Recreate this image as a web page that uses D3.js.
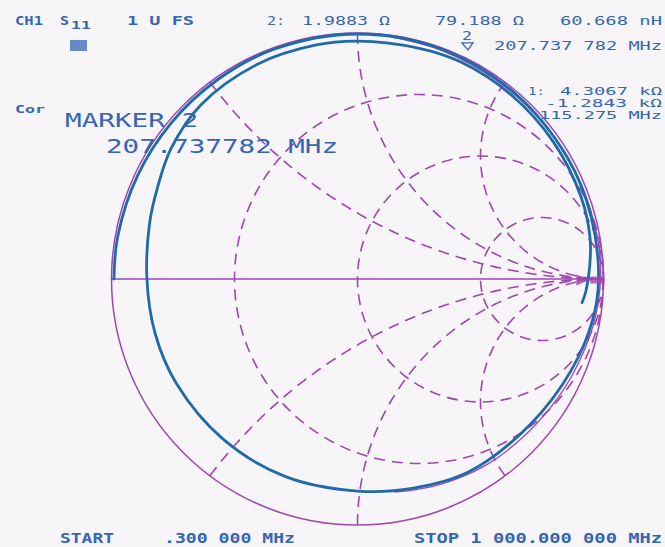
<!DOCTYPE html>
<html>
<head>
<meta charset="utf-8">
<script src="https://cdn.jsdelivr.net/npm/d3@7"></script>
<style>
  html, body { margin: 0; padding: 0; background: #f7f5f8; }
  svg { display: block; }
</style>
</head>
<body>
<div id="chart"></div>
<script>
// ---------------- data ----------------
const Z0 = 50;
const resistanceCircles = [1/3, 1, 3];
const reactanceArcs = [0.5, 1, 2, -0.5, -1, -2];

// S11 trace (measured), reflection coefficient in polar form, frequency order
const traceAngleDeg = [180, 170, 155, 140, 125, 110, 90, 70, 50, 30, 15, 0,
  -10, -23, -40, -60, -75, -90, -110, -130, -150, -165, -180,
  -195, -205, -215, -228, -245, -260, -270, -285, -295.5, -310, -325, -340, -350, -357, -363, -366];
const traceMag = [0.99, 0.99, 0.988, 0.988, 0.99, 0.994, 0.996, 0.995, 0.99, 0.986, 0.983, 0.98,
  0.97, 0.945, 0.918, 0.905, 0.88, 0.862, 0.855, 0.85, 0.85, 0.852, 0.856,
  0.875, 0.895, 0.925, 0.952, 0.963, 0.966, 0.967, 0.971, 0.977, 0.975, 0.972, 0.968, 0.96, 0.945, 0.93, 0.918];

// memory trace (thin purple)
const memAngleDeg = [85, 70, 55, 40, 25, 10, 0, -10, -20, -30, -42, -55, -68, -80];
const memMag = [0.998, 0.99, 0.985, 0.985, 0.987, 0.99, 0.988, 0.978, 0.962, 0.948, 0.932, 0.92, 0.9, 0.88];

// markers: impedance (ohms)
const marker1 = { R: 4306.7, X: -1284.3, f: "115.275 MHz" };
const marker2 = { R: 1.9883, X: 79.188, f: "207.737 782 MHz" };

const headerLabels = ["CH1", "S", "11", "1 U FS"];
const markerReadout = ["2:", "1.9883 \u03A9", "79.188 \u03A9", "60.668 nH", "2", "207.737 782 MHz"];
const marker1Readout = ["1:", "4.3067 k\u03A9", "-1.2843 k\u03A9", "115.275 MHz"];
const activeMarker = ["Cor", "MARKER 2", "207.737782 MHz"];
const sweepLabels = ["START", ".300 000 MHz", "STOP 1 000.000 000 MHz"];

// ---------------- drawing ----------------
const W = 665, H = 547;
const cx = 357.5, cy = 279, Rpx = 246;
const purple = "#a046b0", blue = "#1f6aa8", textBlue = "#3466b4";

const svg = d3.select("#chart").append("svg").attr("width", W).attr("height", H);
svg.append("rect").attr("width", W).attr("height", H).attr("fill", "#f7f5f8");

const x = d3.scaleLinear().domain([-1, 1]).range([cx - Rpx, cx + Rpx]);
const y = d3.scaleLinear().domain([-1, 1]).range([cy + Rpx, cy - Rpx]);

function gammaOf(r, xx) { // normalized z -> Gamma
  const nr = r - 1, ni = xx, dr = r + 1, di = xx;
  const d = dr * dr + di * di;
  return [(nr * dr + ni * di) / d, (ni * dr - nr * di) / d];
}
const line = d3.line().x(d => x(d[0])).y(d => y(d[1]));

const grid = svg.append("g").attr("fill", "none").attr("stroke", purple)
  .attr("stroke-width", 1.6).attr("stroke-dasharray", "11,7");

// resistance circles
grid.selectAll("circle.r").data(resistanceCircles).join("circle")
  .attr("cx", r => x(r / (1 + r))).attr("cy", y(0))
  .attr("r", r => x(1 / (1 + r)) - x(0));

// reactance arcs (sampled along constant reactance)
const rSamples = d3.range(0, 400).map(i => i === 0 ? 0 : Math.pow(10, -3 + i * 0.0175));
grid.selectAll("path.x").data(reactanceArcs).join("path")
  .attr("d", xx => line(rSamples.map(r => gammaOf(r, xx))));

// outer circle + real axis
svg.append("circle").attr("cx", x(0)).attr("cy", y(0)).attr("r", x(1) - x(0))
  .attr("fill", "none").attr("stroke", purple).attr("stroke-width", 1.5);
svg.append("line").attr("x1", x(-1)).attr("x2", x(1)).attr("y1", y(0)).attr("y2", y(0))
  .attr("stroke", purple).attr("stroke-width", 1.6);

const polar = (a, m) => [m * Math.cos(a * Math.PI / 180), m * Math.sin(a * Math.PI / 180)];
const curved = d3.line().x(d => x(d[0])).y(d => y(d[1])).curve(d3.curveCatmullRom.alpha(0.5));

// memory trace
svg.append("path").attr("d", curved(memAngleDeg.map((a, i) => polar(a, memMag[i]))))
  .attr("fill", "none").attr("stroke", purple).attr("stroke-width", 1.3);

// data trace
svg.append("path").attr("d", curved(traceAngleDeg.map((a, i) => polar(a, traceMag[i]))))
  .attr("fill", "none").attr("stroke", blue).attr("stroke-width", 2.8)
  .attr("stroke-linejoin", "round").attr("stroke-linecap", "round");

// marker 1 symbol (filled)
const g1 = gammaOf(marker1.R / Z0, marker1.X / Z0);
const m1x = x(g1[0]), m1y = y(g1[1]);
svg.append("path").attr("d", `M${m1x - 22},${m1y - 6}L${m1x - 8},${m1y - 1}L${m1x - 22},${m1y + 5}Z`)
  .attr("fill", purple).attr("opacity", 0.85);
svg.append("rect").attr("x", m1x - 8).attr("y", m1y - 4).attr("width", 13).attr("height", 7)
  .attr("fill", purple).attr("opacity", 0.8);

// marker 2 symbol (open triangle)
const g2 = gammaOf(marker2.R / Z0, marker2.X / Z0);
const m2x = x(g2[0]) + 7, m2y = y(g2[1]);
svg.append("path").attr("d", `M${m2x - 6},${m2y - 19}L${m2x + 5},${m2y - 19}L${m2x},${m2y - 12}Z`)
  .attr("fill", "none").attr("stroke", textBlue).attr("stroke-width", 1.3);

// ---------------- text ----------------
const font = "'DejaVu Sans Mono', monospace";
function txt(s, tx, ty, w, size, weight) {
  svg.append("text").attr("x", tx).attr("y", ty).text(s)
    .attr("font-family", font).attr("font-size", size).attr("font-weight", weight || "bold")
    .attr("fill", textBlue).attr("textLength", w).attr("lengthAdjust", "spacingAndGlyphs");
}
txt(headerLabels[0], 15, 25, 28, 11.5);
txt(headerLabels[1], 60, 25, 9, 11.5);
txt(headerLabels[2], 71, 29, 20, 10);
txt(headerLabels[3], 127, 25, 67, 11.5);
svg.append("rect").attr("x", 70).attr("y", 40).attr("width", 17).attr("height", 11)
  .attr("fill", textBlue).attr("opacity", 0.75);

txt(markerReadout[0], 267, 25, 18, 11.5, "normal");
txt(markerReadout[1], 302, 25, 88, 11.5, "normal");
txt(markerReadout[2], 435, 25, 89, 11.5, "normal");
txt(markerReadout[3], 560, 25, 102, 11.5, "normal");
txt(markerReadout[4], m2x - 6, m2y - 22, 10, 11.5, "normal");
txt(markerReadout[5], 494, 50, 168, 11.5, "normal");

txt(marker1Readout[0], 528, 95, 17, 10, "normal");
txt(marker1Readout[1], 560, 95, 102, 10, "normal");
txt(marker1Readout[2], 545, 107, 117, 10, "normal");
txt(marker1Readout[3], 539, 119, 123, 10, "normal");

txt(activeMarker[0], 15, 113, 30, 10);
txt(activeMarker[1], 65, 127, 133, 20, "normal");
txt(activeMarker[2], 106, 153, 232, 20, "normal");

txt(sweepLabels[0], 60, 543, 54, 13.5);
txt(sweepLabels[1], 164, 543, 131, 13.5);
txt(sweepLabels[2], 414, 543, 248, 13.5);
</script>
</body>
</html>
